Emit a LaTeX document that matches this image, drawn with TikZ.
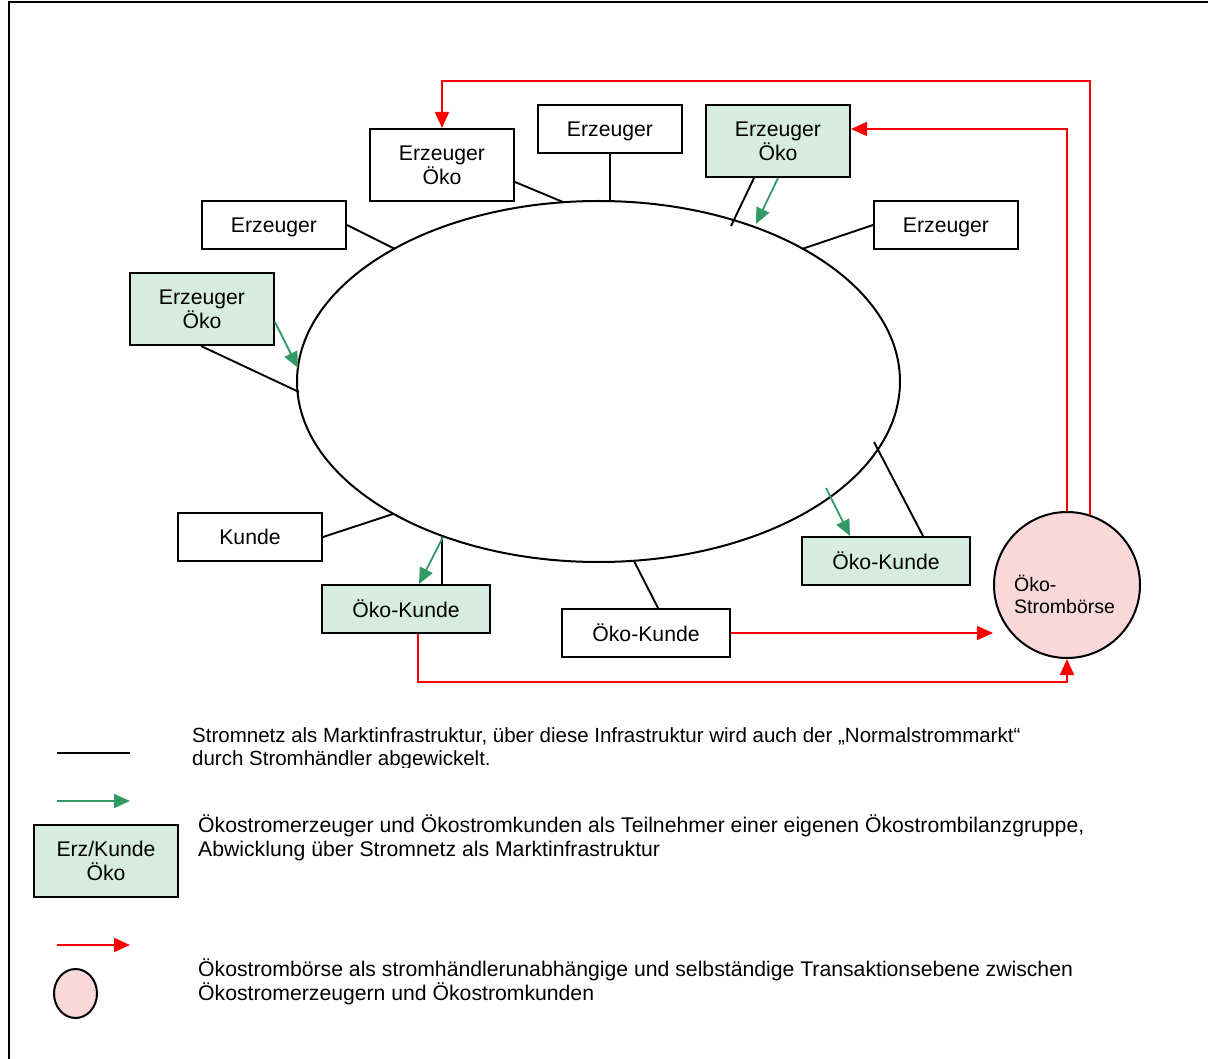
\documentclass[tikz,border=0pt]{standalone}
\usepackage{fontspec}
\setmainfont{Liberation Sans}
\usetikzlibrary{arrows.meta,shapes.geometric,calc}
\definecolor{okogreen}{RGB}{51,153,102}
\definecolor{okofill}{RGB}{214,236,224}
\definecolor{boersefill}{RGB}{248,216,216}
\begin{document}
\begin{tikzpicture}[x=1pt,y=-1pt,
  font=\fontsize{21.2}{23.5}\selectfont,
  box/.style={draw,line width=2pt,inner sep=0pt,align=center,minimum width=144pt,minimum height=48pt,text depth=0pt},
  tall/.style={box,minimum height=72pt},
  wide/.style={box,minimum width=168pt},
  oeko/.style={fill=okofill},
  netline/.style={line width=1.9pt},
  greenarr/.style={draw=okogreen,line width=1.8pt,-{Triangle[length=16pt,width=14pt]}},
  redarr/.style={draw=red,line width=1.8pt,-{Triangle[length=16pt,width=14pt]}},
  legtext/.style={anchor=base west,inner sep=0pt}]
\useasboundingbox (0,0) rectangle (1208,1059);
% frame (top and left edges)
\draw[line width=2pt] (1208,2.5) -- (8.5,2.5) -- (8.5,1059);

% network ellipse
\node[draw,ellipse,line width=2pt,minimum width=603pt,minimum height=361pt,inner sep=0pt] (netz) at (598.5,381.5) {};

% boxes
\node[tall] (e1) at (442,165) {Erzeuger\\Öko};
\node[box] (e2) at (610,129) {Erzeuger};
\node[tall,oeko] (e3) at (778,141) {Erzeuger\\Öko};
\node[box] (e4) at (946,225) {Erzeuger};
\node[box] (e5) at (274,225) {Erzeuger};
\node[tall,oeko] (e6) at (202,309) {Erzeuger\\Öko};
\node[box] (k1) at (250,537) {Kunde};
\node[wide,oeko] (k2) at (406,609) {Öko-Kunde};
\node[wide] (k3) at (646,633) {Öko-Kunde};
\node[wide,oeko] (k4) at (886,561) {Öko-Kunde};

% exchange
\node[draw,circle,line width=2pt,fill=boersefill,minimum size=146pt,inner sep=0pt] (boerse) at (1067,585) {};
\node[anchor=west,inner sep=0pt,align=left,font=\fontsize{19.5}{22}\selectfont] (boersetext) at (1014,594) {Öko-\\Strombörse};

% points on the network
\coordinate (n1) at (563,202);
\coordinate (n2) at (610,201);
\coordinate (n3) at (731,226);
\coordinate (n3g) at (756,224);
\coordinate (n4) at (802,249);
\coordinate (n5) at (395,249);
\coordinate (n6) at (299,392);
\coordinate (n6g) at (298,368);
\coordinate (n7) at (393,514);
\coordinate (n8) at (442,537);
\coordinate (n8g) at (443,537);
\coordinate (n9) at (634,561);
\coordinate (n10) at (874,442);
\coordinate (n10g) at (826,488);

% grid connections (black)
\draw[netline] ($(e1.south east)+(0,-20)$) -- (n1);
\draw[netline] (e2.south) -- (n2);
\draw[netline] ($(e3.south)+(-24,0)$) -- (n3);
\draw[netline] (e4.west) -- (n4);
\draw[netline] (e5.east) -- (n5);
\draw[netline] ($(e6.south west)+(72,0)$) -- (n6);
\draw[netline] (k1.east) -- (n7);
\draw[netline] (n8) -- ($(k2.north)+(36,0)$);
\draw[netline] (n9) -- ($(k3.north)+(12,0)$);
\draw[netline] (n10) -- ($(k4.north)+(37,0)$);

% green arrows
\draw[greenarr] (e3.south) -- (n3g);
\draw[greenarr] ($(e6.south east)+(0,-24)$) -- (n6g);
\draw[greenarr] (n8g) -- ($(k2.north)+(13,0)$);
\draw[greenarr] (n10g) -- ($(k4.north)+(-36,0)$);

% red arrows
\coordinate (r1) at (442,81);
\coordinate (r2) at (1067,682);
\draw[redarr] (boerse.72) |- (r1) -- (e1.north);
\draw[redarr] (boerse.north) |- ($(e3.east)+(0,-12)$);
\draw[redarr] (k3.east) -- (k3.east -| boerse.west);
\draw[redarr] ($(k2.south)+(12,0)$) |- (r2) -- (boerse.south);

% legend
\coordinate (l1a) at (57,753);
\coordinate (l1b) at (130,753);
\draw[netline] (l1a) -- (l1b);
\begin{scope}
\clip (150,700) rectangle (1150,767);
\node[legtext,font=\fontsize{20.5}{23.5}\selectfont] (t1a) at (192,742) {Stromnetz als Marktinfrastruktur, über diese Infrastruktur wird auch der „Normalstrommarkt“};
\node[legtext,font=\fontsize{20.5}{23.5}\selectfont] (t1b) at (192,765) {durch Stromhändler abgewickelt.};
\end{scope}

\coordinate (l2a) at (57,801);
\coordinate (l2b) at (130,801);
\draw[greenarr] (l2a) -- (l2b);
\node[tall,oeko] (legbox) at (106,861) {Erz/Kunde\\Öko};
\node[legtext] (t2a) at (198,832) {Ökostromerzeuger und Ökostromkunden als Teilnehmer einer eigenen Ökostrombilanzgruppe,};
\node[legtext] (t2b) at (198,856) {Abwicklung über Stromnetz als Marktinfrastruktur};

\coordinate (l3a) at (57,945);
\coordinate (l3b) at (130,945);
\draw[redarr] (l3a) -- (l3b);
\node[draw,ellipse,line width=2pt,fill=boersefill,minimum width=43pt,minimum height=49pt,inner sep=0pt] (legcirc) at (75.5,993.5) {};
\node[legtext] (t3a) at (198,976) {Ökostrombörse als stromhändlerunabhängige und selbständige Transaktionsebene zwischen};
\node[legtext] (t3b) at (198,1000) {Ökostromerzeugern und Ökostromkunden};
\end{tikzpicture}
\end{document}
